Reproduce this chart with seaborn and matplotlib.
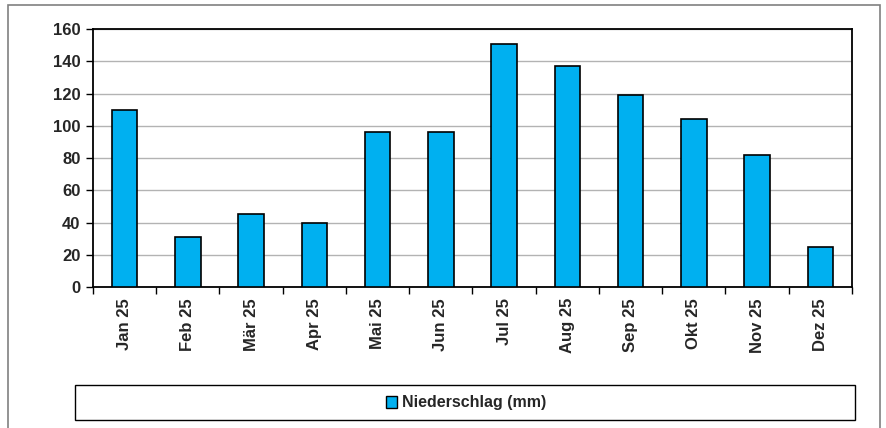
import numpy as np
import pandas as pd
import matplotlib
matplotlib.use("Agg")
import matplotlib.pyplot as plt
from matplotlib.patches import Rectangle
import seaborn as sns

months = ["Jan 25", "Feb 25", "Mär 25", "Apr 25", "Mai 25", "Jun 25",
          "Jul 25", "Aug 25", "Sep 25", "Okt 25", "Nov 25", "Dez 25"]
niederschlag = [110, 31, 45, 40, 96, 96, 151, 137, 119, 104, 82, 25]
y_ticks = [0, 20, 40, 60, 80, 100, 120, 140, 160]
series_label = "Niederschlag (mm)"

sns.set_style("white")
plt.rcParams["font.family"] = ["Liberation Sans", "DejaVu Sans"]
plt.rcParams["font.weight"] = "bold"

df = pd.DataFrame({"Monat": months, "mm": niederschlag})

fig = plt.figure(figsize=(8.87, 4.28), dpi=100)
ax = fig.add_axes([93 / 887, 1 - 287 / 428, (852 - 93) / 887, (287 - 29) / 428])

sns.barplot(data=df, x="Monat", y="mm", color="#00B0F0", saturation=1,
            width=0.4, edgecolor="black", linewidth=1.2, ax=ax, zorder=3)

ax.set_ylim(0, 160)
ax.set_xlim(-0.5, len(months) - 0.5)
ax.set_yticks(y_ticks)
ax.set_yticklabels([str(v) for v in y_ticks], fontsize=12, fontweight="bold")
ax.yaxis.grid(True, color="#b3b3b3", linewidth=1, zorder=0)
ax.set_axisbelow(True)

# tick marks between categories, labels centred under bars
ax.set_xticks(np.arange(-0.5, len(months)), minor=False)
ax.set_xticklabels([])
ax.set_xticks(np.arange(len(months)), minor=True)
ax.set_xticklabels(months, minor=True, rotation=90, fontsize=12, fontweight="bold")
ax.tick_params(axis="x", which="major", direction="out", length=5, width=1, color="black", bottom=True)
ax.tick_params(axis="x", which="minor", length=0, pad=8)
ax.tick_params(axis="y", direction="out", length=5, width=1, color="black", left=True, pad=4)

ax.set_xlabel("")
ax.set_ylabel("")
for side in ["left", "bottom", "top", "right"]:
    ax.spines[side].set_visible(True)
    ax.spines[side].set_color("black")
    ax.spines[side].set_linewidth(1.3)

# outer chart frame
fig.patches.append(Rectangle((8 / 887, -0.05), (880 - 8) / 887, 1 - 5 / 428 + 0.05,
                             transform=fig.transFigure, fill=False,
                             edgecolor="#808080", linewidth=1.2))
# legend box
fig.patches.append(Rectangle((75 / 887, 1 - 420 / 428), (855 - 75) / 887, 35 / 428,
                             transform=fig.transFigure, fill=False,
                             edgecolor="black", linewidth=1))
handle = Rectangle((0, 0), 1, 1, facecolor="#00B0F0", edgecolor="black", linewidth=1)
fig.legend([handle], [series_label], loc="center",
           bbox_to_anchor=(466 / 887, 1 - 403 / 428), frameon=False,
           prop={"size": 11.5, "weight": "bold"}, handlelength=0.7, handleheight=0.7,
           handletextpad=0.3)

fig.savefig("out.png", dpi=100)
